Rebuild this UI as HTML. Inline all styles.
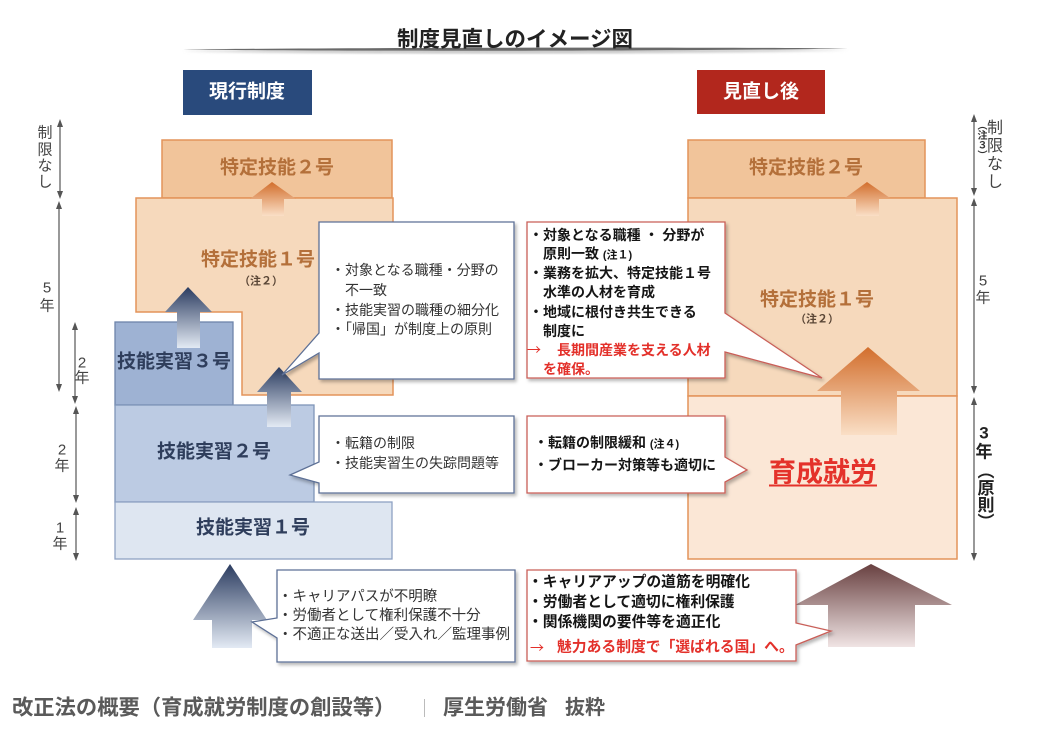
<!DOCTYPE html>
<html><head><meta charset="utf-8">
<style>
html,body{margin:0;padding:0;background:#fff;}
body{width:1046px;height:748px;position:relative;overflow:hidden;font-family:"Liberation Sans","Noto Sans CJK JP",sans-serif;}
.t{position:absolute;white-space:nowrap;line-height:1;transform:translate(-50%,-50%);}
.l{position:absolute;white-space:nowrap;line-height:1;transform:translateY(-50%);}
.b{font-weight:bold;}
.o{color:#b4703a;font-weight:bold;font-size:19px;}
.bl{color:#2f3e5c;font-weight:bold;font-size:19px;}
.n{color:#5a4636;font-weight:bold;font-size:11px;}
.cl{font-size:14px;color:#333;}
.cr{font-size:14px;color:#151515;font-weight:bold;}
.red{color:#e3302a;}
.ar{font-family:"Noto Sans CJK JP",sans-serif;font-weight:normal;}
.sc{font-size:15px;color:#444;}
.v{position:absolute;writing-mode:vertical-rl;line-height:1;white-space:nowrap;transform:translateX(-50%);}
</style></head>
<body>
<svg width="1046" height="748" style="position:absolute;left:0;top:0">
<defs>
<linearGradient id="gB" x1="0" y1="0" x2="0" y2="1"><stop offset="0" stop-color="#2b3c60"/><stop offset="1" stop-color="#e3eaf4"/></linearGradient>
<linearGradient id="gO" x1="0" y1="0" x2="0" y2="1"><stop offset="0" stop-color="#d26e2c"/><stop offset="1" stop-color="#fadfc6"/></linearGradient>
<linearGradient id="gR" x1="0" y1="0" x2="0" y2="1"><stop offset="0" stop-color="#684040"/><stop offset="1" stop-color="#f0e4e4"/></linearGradient>
<filter id="sh" x="-10%" y="-10%" width="130%" height="130%"><feDropShadow dx="2" dy="2.5" stdDeviation="1.5" flood-color="#000" flood-opacity="0.28"/></filter>
<filter id="bl"><feGaussianBlur stdDeviation="1.2"/></filter>
</defs>

<path d="M183,51 C350,49 700,48.5 848,50 C700,54.5 350,55 183,51Z" fill="#c8c8c8" filter="url(#bl)"/>
<path d="M183,49.5 C350,47.5 700,47 848,48.5 C700,51 350,51.5 183,49.5Z" fill="#6a6a6a"/>

<rect x="183" y="70" width="129" height="45" fill="#294a7c"/>
<rect x="697" y="70" width="128" height="44" fill="#b2271d"/>

<rect x="162" y="140" width="230" height="58" fill="#f1c49a" stroke="#e3945a" stroke-width="1.5"/>
<polygon points="136,198 393,198 393,395 242,395 242,312 136,312" fill="#f6d9bc" stroke="#e3945a" stroke-width="1.5"/>
<rect x="688" y="140" width="237" height="58" fill="#f1c49a" stroke="#e3945a" stroke-width="1.5"/>
<rect x="688" y="198" width="269" height="198" fill="#f6d9bc" stroke="#e3945a" stroke-width="1.5"/>
<rect x="688" y="396" width="269" height="163" fill="#fbe7d6" stroke="#e3945a" stroke-width="1.5"/>

<rect x="115" y="322" width="118" height="83" fill="#9eb2d3" stroke="#6e84aa" stroke-width="1.3"/>
<rect x="115" y="405" width="199" height="97" fill="#bccbe3" stroke="#7f95b8" stroke-width="1.3"/>
<rect x="115" y="502" width="277" height="57" fill="#dee6f1" stroke="#8ea2c3" stroke-width="1.3"/>

<polygon points="272,182 296,199 284,199 284,216 262,216 262,199 250,199" fill="url(#gO)"/>
<polygon points="867,182 890,198 879,198 879,216 856,216 856,198 845,198" fill="url(#gO)"/>
<polygon points="188,287 212,312 200,312 200,348 177,348 177,312 165,312" fill="url(#gB)"/>
<polygon points="279,367 302,392 291,392 291,427 267,427 267,392 257,392" fill="url(#gB)"/>
<polygon points="868,347 920,391 897,391 897,435 841,435 841,391 817,391" fill="url(#gO)"/>
<polygon points="230,564 267,620 252,620 252,648 212,648 212,620 193,620" fill="url(#gB)"/>
<polygon points="871,564 952,605 915,605 915,647 828,647 828,605 795,605" fill="url(#gR)"/>

<g filter="url(#sh)" fill="#fff" stroke="#5d7096" stroke-width="1.3">
<path d="M319,222H514V379H319V353L282,375L319,333Z"/>
<path d="M319,416H514V493H319V483L290,475L319,462Z"/>
<path d="M277,570H515V662H277V638L252,622L277,618Z"/>
</g>
<g filter="url(#sh)" fill="#fff" stroke="#c95f59" stroke-width="1.3">
<path d="M527,222H725V313L822,378L725,352V378H527Z"/>
<path d="M527,416H725V457L747,470L725,482V493H527Z"/>
<path d="M527,570H796V623L831,631L796,645V661H527Z"/>
</g>

<g stroke="#555" stroke-width="1.2">
<line x1="60" y1="125" x2="60" y2="194"/>
<line x1="59" y1="204" x2="59" y2="389"/>
<line x1="75" y1="326" x2="75" y2="400"/>
<line x1="76" y1="410" x2="76" y2="499"/>
<line x1="76" y1="511" x2="76" y2="557"/>
<line x1="974" y1="118" x2="974" y2="192"/>
<line x1="974" y1="202" x2="974" y2="390"/>
<line x1="974" y1="401" x2="974" y2="557"/>
</g>
<g fill="#555">
<polygon points="60,119 57,127 63,127"/><polygon points="60,199 57,191 63,191"/>
<polygon points="59,201 56,209 62,209"/><polygon points="59,392 56,384 62,384"/>
<polygon points="75,322 72,330 78,330"/><polygon points="75,404 72,396 78,396"/>
<polygon points="76,406 73,414 79,414"/><polygon points="76,503 73,495 79,495"/>
<polygon points="76,507 73,515 79,515"/><polygon points="76,561 73,553 79,553"/>
<polygon points="974,114 971,122 977,122"/><polygon points="974,196 971,188 977,188"/>
<polygon points="974,198 971,206 977,206"/><polygon points="974,394 971,386 977,386"/>
<polygon points="974,397 971,405 977,405"/><polygon points="974,561 971,553 977,553"/>
</g>
<line x1="424.5" y1="699" x2="424.5" y2="717" stroke="#bbb" stroke-width="1"/>
</svg>

<div class="t b" style="left:515px;top:40px;font-size:21.5px;color:#222;">制度見直しのイメージ図</div>
<div class="t b" style="left:247px;top:92px;font-size:19px;color:#fff;">現行制度</div>
<div class="t b" style="left:761px;top:92px;font-size:19px;color:#fff;">見直し後</div>

<div class="t o" style="left:277px;top:168px;">特定技能２号</div>
<div class="t o" style="left:806px;top:168px;">特定技能２号</div>
<div class="t o" style="left:258px;top:260px;">特定技能１号</div>
<div class="t n" style="left:261px;top:282px;">（注２）</div>
<div class="t o" style="left:817px;top:300px;">特定技能１号</div>
<div class="t n" style="left:817px;top:320px;">（注２）</div>
<div class="t b" style="left:823px;top:473px;font-size:27px;color:#e4322a;text-decoration:underline;text-underline-offset:3px;text-decoration-thickness:2px;">育成就労</div>

<div class="t bl" style="left:174px;top:362px;">技能実習３号</div>
<div class="t bl" style="left:214px;top:452px;">技能実習２号</div>
<div class="t bl" style="left:253px;top:528px;">技能実習１号</div>

<div class="l cl" style="left:331px;top:270px;">・対象となる職種・分野の</div>
<div class="l cl" style="left:345px;top:290px;">不一致</div>
<div class="l cl" style="left:331px;top:310px;">・技能実習の職種の細分化</div>
<div class="l cl" style="left:331px;top:329px;">・「帰国」が制度上の原則</div>
<div class="l cl" style="left:331px;top:443px;">・転籍の制限</div>
<div class="l cl" style="left:331px;top:463px;">・技能実習生の失踪問題等</div>
<div class="l cl" style="left:278px;top:597px;font-size:14.5px;">・キャリアパスが不明瞭</div>
<div class="l cl" style="left:278px;top:616px;font-size:14.5px;">・労働者として権利保護不十分</div>
<div class="l cl" style="left:278px;top:635px;font-size:14.5px;">・不適正な送出／受入れ／監理事例</div>

<div class="l cr" style="left:529px;top:235px;">・対象となる職種 ・ 分野が</div>
<div class="l cr" style="left:543px;top:254px;">原則一致 <span style="font-size:11px;">(注１)</span></div>
<div class="l cr" style="left:529px;top:273px;">・業務を拡大、特定技能１号</div>
<div class="l cr" style="left:543px;top:292px;">水準の人材を育成</div>
<div class="l cr" style="left:529px;top:312px;">・地域に根付き共生できる</div>
<div class="l cr" style="left:543px;top:331px;">制度に</div>
<div class="l cr red ar" style="left:527px;top:350px;">→</div>
<div class="l cr red" style="left:557px;top:350px;">長期間産業を支える人材</div>
<div class="l cr red" style="left:543px;top:369px;">を確保。</div>
<div class="l cr" style="left:534px;top:443px;">・転籍の制限緩和 <span style="font-size:11px;">(注４)</span></div>
<div class="l cr" style="left:534px;top:465px;">・ブローカー対策等も適切に</div>
<div class="l cr" style="left:528px;top:583px;font-size:14.8px;">・キャリアアップの道筋を明確化</div>
<div class="l cr" style="left:528px;top:603px;font-size:14.8px;">・労働者として適切に権利保護</div>
<div class="l cr" style="left:528px;top:623px;font-size:14.8px;">・関係機関の要件等を適正化</div>
<div class="l cr red ar" style="left:530px;top:648px;">→</div>
<div class="l cr red" style="left:557px;top:648px;font-size:14.8px;">魅力ある制度で「選ばれる国」へ。</div>

<div class="t sc" style="left:45px;top:133px;">制</div>
<div class="t sc" style="left:45px;top:150px;">限</div>
<div class="t sc" style="left:45px;top:166px;">な</div>
<div class="t sc" style="left:45px;top:182px;">し</div>
<div class="t sc" style="left:47px;top:288px;">5</div>
<div class="t sc" style="left:47px;top:306px;">年</div>
<div class="t sc" style="left:82px;top:363px;">2</div>
<div class="t sc" style="left:82px;top:378px;">年</div>
<div class="t sc" style="left:62px;top:450px;">2</div>
<div class="t sc" style="left:62px;top:466px;">年</div>
<div class="t sc" style="left:60px;top:528px;">1</div>
<div class="t sc" style="left:60px;top:544px;">年</div>

<div class="v b" style="left:980px;top:120px;font-size:10px;color:#333;">（注３）</div>
<div class="t sc" style="left:995px;top:129px;font-size:16px;">制</div>
<div class="t sc" style="left:995px;top:147px;font-size:16px;">限</div>
<div class="t sc" style="left:995px;top:165px;font-size:16px;">な</div>
<div class="t sc" style="left:995px;top:183px;font-size:16px;">し</div>
<div class="t sc" style="left:983px;top:281px;">5</div>
<div class="t sc" style="left:983px;top:298px;">年</div>
<div class="t b" style="left:984px;top:433px;font-size:17px;color:#222;">3</div>
<div class="t b" style="left:984px;top:452px;font-size:17px;color:#222;">年</div>
<div class="v b" style="left:984px;top:462px;font-size:17px;color:#222;">（原則）</div>

<div class="l b" style="left:12px;top:708px;font-size:21.3px;color:#5a5a5a;">改正法の概要（育成就労制度の創設等）</div>
<div class="l b" style="left:443px;top:708px;font-size:21px;color:#5a5a5a;">厚生労働省</div>
<div class="l b" style="left:565px;top:708px;font-size:20px;color:#5a5a5a;">抜粋</div>
</body></html>
